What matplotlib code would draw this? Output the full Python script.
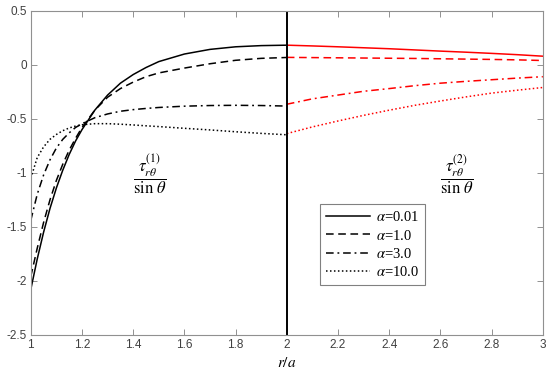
import numpy as np
import matplotlib
matplotlib.use('Agg')
import matplotlib.pyplot as plt

plt.rcParams['mathtext.fontset'] = 'stix'

# 区域1: r/a 从 1 到 2 (黑线)
x1 = [1.0, 1.025, 1.05, 1.075, 1.1, 1.125, 1.15, 1.175, 1.2, 1.25, 1.3, 1.35, 1.4, 1.45, 1.5, 1.6, 1.7, 1.8, 1.9, 2.0]
a001_1 = [-2.08, -1.80, -1.55, -1.33, -1.14, -0.975, -0.83, -0.705, -0.60, -0.42, -0.28, -0.17, -0.09, -0.025, 0.03, 0.10, 0.143, 0.167, 0.178, 0.182]
a1_1 = [-1.96, -1.70, -1.46, -1.25, -1.07, -0.92, -0.79, -0.68, -0.58, -0.42, -0.30, -0.22, -0.16, -0.11, -0.075, -0.03, 0.01, 0.042, 0.06, 0.068]
a3_1 = [-1.44, -1.20, -1.02, -0.88, -0.77, -0.69, -0.63, -0.58, -0.545, -0.49, -0.455, -0.43, -0.415, -0.404, -0.395, -0.383, -0.377, -0.375, -0.377, -0.382]
a10_1 = [-1.05, -0.86, -0.76, -0.69, -0.645, -0.61, -0.585, -0.567, -0.555, -0.545, -0.545, -0.55, -0.557, -0.565, -0.572, -0.588, -0.603, -0.62, -0.635, -0.648]

# 区域2: r/a 从 2 到 3 (红线)
x2 = [2.0, 2.1, 2.2, 2.3, 2.4, 2.5, 2.6, 2.7, 2.8, 2.9, 3.0]
a001_2 = [0.182, 0.175, 0.167, 0.158, 0.149, 0.138, 0.127, 0.117, 0.106, 0.094, 0.08]
a1_2 = [0.069, 0.067, 0.065, 0.063, 0.061, 0.059, 0.056, 0.053, 0.05, 0.046, 0.04]
a3_2 = [-0.365, -0.315, -0.28, -0.245, -0.22, -0.193, -0.17, -0.153, -0.138, -0.123, -0.11]
a10_2 = [-0.637, -0.575, -0.52, -0.468, -0.42, -0.375, -0.335, -0.297, -0.262, -0.235, -0.21]

labels = [r'$\alpha$=0.01', r'$\alpha$=1.0', r'$\alpha$=3.0', r'$\alpha$=10.0']
styles = ['-', (0, (5, 3)), (0, (5, 2.5, 1.2, 2.5)), (0, (1, 1.6))]

fig = plt.figure(figsize=(5.5, 3.74), dpi=100)
ax = fig.add_axes([0.056, 0.105, 0.931, 0.866])

series1 = [a001_1, a1_1, a3_1, a10_1]
series2 = [a001_2, a1_2, a3_2, a10_2]
for y1, y2, ls, lab in zip(series1, series2, styles, labels):
	ax.plot(x1, y1, color='k', linestyle=ls, linewidth=1.1, label=lab)
	ax.plot(x2, y2, color='red', linestyle=ls, linewidth=1.1)

# 分界线 r/a=2
ax.axvline(2, color='k', linewidth=1.4)

ax.set_xlim(1, 3)
ax.set_ylim(-2.5, 0.5)
ax.set_xticks(np.arange(1, 3.01, 0.2))
ax.set_xticklabels(['1', '1.2', '1.4', '1.6', '1.8', '2', '2.2', '2.4', '2.6', '2.8', '3'])
ax.set_yticks([-2.5, -2, -1.5, -1, -0.5, 0, 0.5])
ax.set_yticklabels(['-2.5', '-2', '-1.5', '-1', '-0.5', '0', '0.5'])
ax.tick_params(direction='in', top=True, right=True, length=4, width=0.6,
	color='#808080', labelsize=8.5, labelcolor='#404040', pad=3)
for lab in ax.get_xticklabels() + ax.get_yticklabels():
	lab.set_family('Liberation Sans')
for s in ax.spines.values():
	s.set_color('#909090')
	s.set_linewidth(0.8)

ax.set_xlabel(r'$r/a$', fontsize=11, labelpad=3)

# 公式标注
ax.text(1.465, -1.01, r'$\dfrac{\tau_{r\theta}^{(1)}}{\sin\,\theta}$', fontsize=12, ha='center', va='center')
ax.text(2.665, -1.02, r'$\dfrac{\tau_{r\theta}^{(2)}}{\sin\,\theta}$', fontsize=12, ha='center', va='center')

leg = ax.legend(loc='upper left', bbox_to_anchor=(0.551, 0.425),
	prop={'family': 'Liberation Serif', 'size': 10.5},
	handlelength=3.0, handletextpad=0.4, labelspacing=0.3, borderpad=0.4,
	fancybox=False, edgecolor='#808080', framealpha=1)
leg.get_frame().set_linewidth(0.8)

fig.savefig('out.png', dpi=100)
